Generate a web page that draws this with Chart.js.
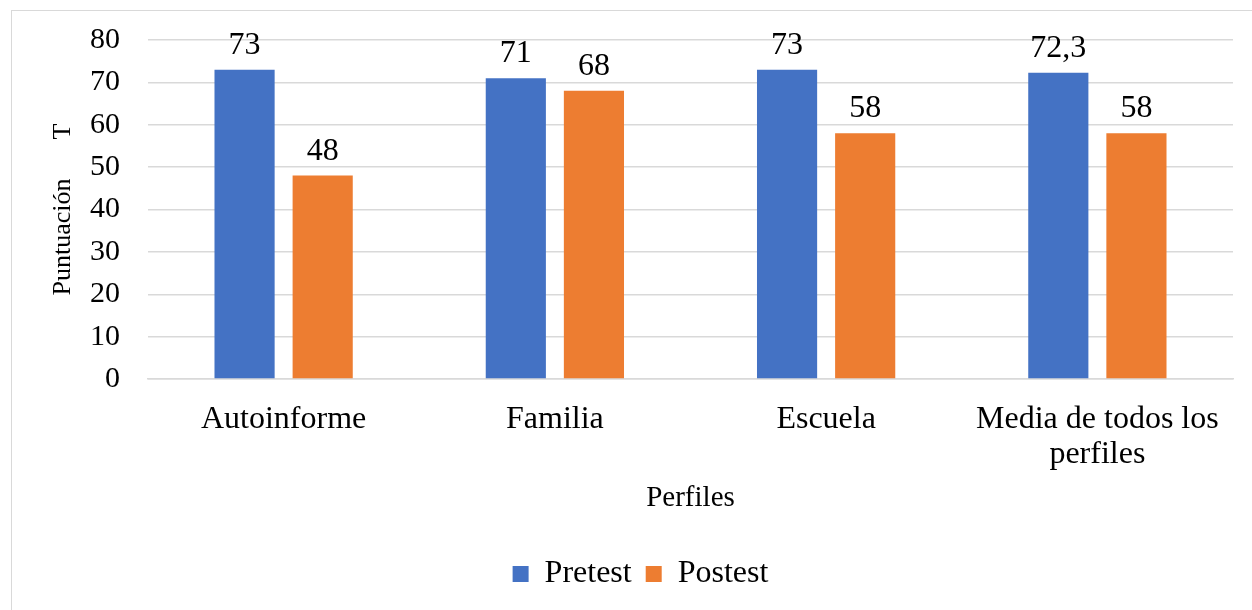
<!DOCTYPE html>
<html>
<head>
<meta charset="utf-8">
<script src="https://cdn.jsdelivr.net/npm/chart.js@4.4.1/dist/chart.umd.min.js"></script>
<style>
  html, body { margin: 0; padding: 0; background: #fff; overflow: hidden; }
  #wrap { position: absolute; left: 0; top: 0; width: 1252px; height: 610px; }
  #frame { position: absolute; left: 11px; top: 10px; width: 1400px; height: 800px; border: 1px solid #d9d9d9; pointer-events: none; }
</style>
</head>
<body>
<div id="wrap"><canvas id="grafico" width="1252" height="610"></canvas></div>
<div id="frame"></div>
<script>
const categorias = ["Autoinforme", "Familia", "Escuela", ["Media de todos los", "perfiles"]];
const pretest = [73, 71, 73, 72.3];
const postest = [48, 68, 58, 58];
const ticksY = [0, 10, 20, 30, 40, 50, 60, 70, 80];

const fuente = "'Liberation Serif', 'Times New Roman', serif";

// etiquetas encima de cada barra (con coma decimal)
const etiquetas = {
    id: 'etiquetas',
    afterDatasetsDraw(chart) {
        const ctx = chart.ctx;
        ctx.save();
        ctx.font = "32px " + fuente;
        ctx.fillStyle = "#000";
        ctx.textAlign = "center";
        ctx.textBaseline = "alphabetic";
        chart.data.datasets.forEach((ds, i) => {
            chart.getDatasetMeta(i).data.forEach((bar, j) => {
                ctx.fillText(String(ds.data[j]).replace('.', ','), bar.x, bar.y - 16);
            });
        });
        ctx.restore();
    }
};

// la leyenda va algo corrida a la derecha, como en el original
const moverLeyenda = {
    id: 'moverLeyenda',
    afterLayout(chart) {
        if (chart.legend) {
            chart.legend.left += 24;
            chart.legend.right += 24;
        }
    }
};

new Chart(document.getElementById('grafico'), {
    type: 'bar',
    data: {
        labels: categorias,
        datasets: [{
            label: 'Pretest',
            data: pretest,
            backgroundColor: "#4472C4",
            categoryPercentage: 0.576,
            barPercentage: 0.77
        }, {
            label: 'Postest',
            data: postest,
            backgroundColor: "#ED7D31",
            categoryPercentage: 0.576,
            barPercentage: 0.77
        }]
    },
    options: {
        responsive: false,
        animation: false,
        layout: {
            padding: { left: 0, right: 19, top: 40, bottom: 10 }
        },
        plugins: {
            tooltip: { enabled: false },
            legend: {
                position: 'bottom',
                labels: {
                    boxWidth: 16,
                    boxHeight: 16,
                    padding: 14,
                    color: "#000",
                    font: { family: fuente, size: 32 }
                }
            }
        },
        scales: {
            y: {
                min: 0,
                max: 80,
                afterBuildTicks(scale) {
                    scale.ticks = ticksY.map(v => ({ value: v }));
                },
                afterFit(scale) {
                    scale.width = 148;
                    scale.paddingTop = 0;
                    scale.paddingBottom = 0;
                },
                grid: {
                    color: "#d9d9d9",
                    lineWidth: 1.5,
                    drawTicks: false
                },
                border: { display: false },
                ticks: {
                    color: "#000",
                    padding: 28,
                    font: { family: fuente, size: 30 }
                },
                title: {
                    display: true,
                    text: "Puntuación\u00a0\u00a0\u00a0\u00a0\u00a0\u00a0T",
                    color: "#000",
                    padding: { top: 48, bottom: 0 },
                    font: { family: fuente, size: 26 }
                }
            },
            x: {
                afterFit(scale) {
                    const leyenda = scale.chart.legend ? scale.chart.legend.height : 50;
                    scale.height = 610 - 379 - leyenda - 10;
                },
                grid: { display: false, drawTicks: false },
                border: { color: "#d9d9d9", width: 1.5 },
                ticks: {
                    color: "#000",
                    padding: 23,
                    maxRotation: 0,
                    font: { family: fuente, size: 32, lineHeight: 1.1 }
                },
                title: {
                    display: true,
                    text: "Perfiles",
                    color: "#000",
                    padding: { top: 0, bottom: 28 },
                    font: { family: fuente, size: 29 }
                }
            }
        }
    },
    plugins: [etiquetas, moverLeyenda]
});
</script>
</body>
</html>
